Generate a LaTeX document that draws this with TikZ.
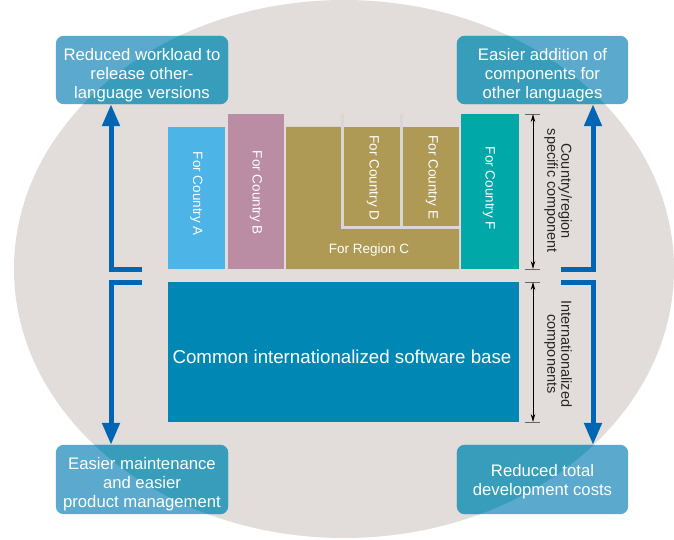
\documentclass[tikz,border=0pt]{standalone}
\usepackage{fontspec}
\setmainfont{Liberation Sans}
\usetikzlibrary{arrows.meta}
\pgfdeclarelayer{background}
\pgfsetlayers{background,main}
\definecolor{bg}{HTML}{E2DDDB}
\definecolor{arrowblue}{HTML}{0066B3}
\definecolor{boxout}{HTML}{5BA9CC}
\definecolor{boxin}{HTML}{389DBB}
\definecolor{cA}{HTML}{4CB4E7}
\definecolor{cB}{HTML}{BA8DA5}
\definecolor{cC}{HTML}{AF9A55}
\definecolor{cF}{HTML}{00A8A8}
\definecolor{cbase}{HTML}{0087B4}
\definecolor{gapline}{HTML}{D7D7D7}
\begin{document}
\begin{tikzpicture}[x=1pt,y=-1pt,
  benefit/.style={minimum width=172pt, minimum height=68pt, inner sep=0pt},
  benefittext/.style={inner sep=0pt, align=center, text=white, font=\fontsize{16.7}{19}\selectfont},
  block/.style={anchor=north west, inner sep=0pt, outer sep=0pt},
  vlabel/.style={rotate=-90, text=white, font=\fontsize{13.5}{16}\selectfont, inner sep=0pt},
  sidelabel/.style={rotate=-90, text=black!85, align=center, font=\fontsize{14.5}{14}\selectfont, inner sep=0pt},
  bluearrow/.style={draw=arrowblue, line width=5pt, -{Triangle[width=17pt,length=22pt]}},
  dimarrow/.style={draw=black, line width=0.8pt, {Stealth[length=8pt,width=4.5pt]}-{Stealth[length=8pt,width=4.5pt]}},
  dimbar/.style={draw=black!60, line width=0.8pt}]
\useasboundingbox (0,0) rectangle (674,540);

% benefit boxes
\node[benefit] (b1) at (142,70) {};
\node[benefit, minimum width=171pt] (b2) at (542.5,70) {};
\node[benefit, minimum height=69pt] (b3) at (142,479.5) {};
\node[benefit, minimum width=171pt, minimum height=69pt] (b4) at (542.5,479.5) {};
\node[benefittext] (t1) at ([yshift=-5pt]b1.center) {Reduced workload to\\release other-\\language versions};
\node[benefittext] (t2) at ([yshift=-5pt]b2.center) {Easier addition of\\components for\\other languages};
\node[benefittext] (t3) at ([yshift=-5pt]b3.center) {Easier maintenance\\and easier\\product management};
\node[benefittext] (t4) at ([yshift=-2pt]b4.center) {Reduced total\\development costs};

\begin{pgfonlayer}{background}
  \fill[bg] (344,269) ellipse [x radius=330, y radius=269];
  \foreach \b in {b1,b2,b3,b4}{
    \fill[boxout, rounded corners=8pt] (\b.south west) rectangle (\b.north east);
  }
  \begin{scope}
    \clip (344,269) ellipse [x radius=330, y radius=269];
    \foreach \b in {b1,b2,b3,b4}{
      \fill[boxin, rounded corners=8pt] (\b.south west) rectangle (\b.north east);
    }
  \end{scope}
\end{pgfonlayer}

% component blocks
\node[block, fill=cA, minimum width=57pt, minimum height=142pt] (A) at (168,127) {};
\node[block, fill=cB, minimum width=56pt, minimum height=155pt] (B) at (228,114) {};
\fill[cC] (286,127) -- (341,127) -- (341,229) -- (459,229) -- (459,269) -- (286,269) -- cycle;
\node[block, fill=cC, minimum width=56pt, minimum height=99pt] (D) at (344,127) {};
\node[block, fill=cC, minimum width=56pt, minimum height=99pt] (E) at (403,127) {};
\draw[gapline, line width=3pt] (342.5,114) -- (342.5,227.5) -- (459,227.5);
\draw[gapline, line width=3pt] (401.5,114) -- (401.5,226);
\node[block, fill=cF, minimum width=58pt, minimum height=155pt] (F) at (461,114) {};
\node[block, fill=cbase, minimum width=351pt, minimum height=140pt] (base) at (168,282) {};

% block labels
\node[vlabel] (tA) at (196.5,194) {For Country A};
\node[vlabel] (tB) at (256,193) {For Country B};
\node[vlabel] (tD) at (373,178) {For Country D};
\node[vlabel] (tE) at (432,177.5) {For Country E};
\node[vlabel] (tF) at (489,188.5) {For Country F};
\node[text=white, font=\fontsize{13.5}{16}\selectfont, inner sep=0pt] (tC) at (369,250) {For Region C};
\node[text=white, font=\fontsize{18.7}{22}\selectfont, inner sep=0pt] (tbase) at (342,357) {Common internationalized software base};

% dimension markers
\coordinate (d1t) at (533,114);
\coordinate (d1b) at (533,269);
\coordinate (d2t) at (533,282);
\coordinate (d2b) at (533,422);
\draw[dimbar] (525,114) -- (540,114);
\draw[dimbar] (525,269) -- (540,269);
\draw[dimbar] (525,282) -- (540,282);
\draw[dimbar] (525,422) -- (540,422);
\draw[dimarrow] (d1t) -- (d1b);
\draw[dimarrow] (d2t) -- (d2b);
\node[sidelabel] (s1) at (558,191) {Country/region\\specific component};
\node[sidelabel] (s2) at (558,354) {Internationalized\\components};

% blue arrows
\coordinate (lu) at (142,269);
\coordinate (luc) at (111,269);
\coordinate (ld) at (142,282);
\coordinate (ldc) at (111,282);
\coordinate (ru) at (561,269);
\coordinate (ruc) at (593,269);
\coordinate (rd) at (561,282);
\coordinate (rdc) at (593,282);
\draw[bluearrow] (lu) -- (luc) -- (b1.south -| luc);
\draw[bluearrow] (ld) -- (ldc) -- (b3.north -| ldc);
\draw[bluearrow] (ru) -- (ruc) -- (b2.south -| ruc);
\draw[bluearrow] (rd) -- (rdc) -- (b4.north -| rdc);
\end{tikzpicture}
\end{document}
